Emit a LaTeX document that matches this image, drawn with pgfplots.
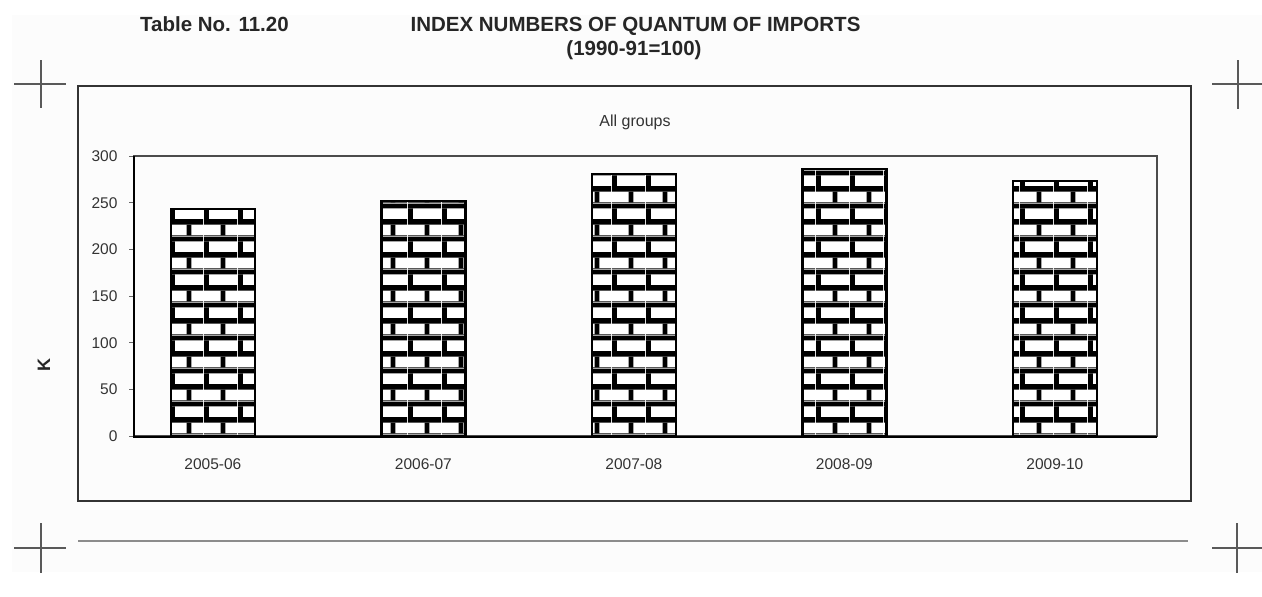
\documentclass[border=0pt]{standalone}
\usepackage{fontspec}
\setmainfont{Liberation Sans}
\usepackage{pgfplots}
\pgfplotsset{compat=1.18}
\usetikzlibrary{patterns.meta}

\tikzdeclarepattern{
  name=bricks,
  type=uncolored,
  bottom left={(0pt,0pt)},
  top right={(34pt,32.6pt)},
  tile size={(34pt,32.6pt)},
  code={
    \fill (0pt,11.55pt) rectangle (34pt,17.05pt);
    \fill (0pt,27.85pt) rectangle (34pt,32.6pt);
    \fill (0pt,0pt) rectangle (34pt,0.75pt);
    \fill (0pt,17.05pt) rectangle (5pt,27.85pt);
    \fill (17pt,0.75pt) rectangle (22pt,11.55pt);
  }
}

\pgfplotstableread{
x val
0 243.2
1 252.1
2 280.4
3 286.1
4 273.5
}\imports

\begin{document}
\begin{tikzpicture}[x=1pt,y=-1pt]
\path[use as bounding box] (0,0) rectangle (1262,597);
\fill[black!1] (12,15) rectangle (1262,572);

% header
\node[anchor=base west, inner sep=0, font=\bfseries\fontsize{20.5}{20.5}\selectfont, text=black!85] at (140,31) {Table No. 11.20};
\node[anchor=base, inner sep=0, font=\bfseries\fontsize{20.5}{20.5}\selectfont, text=black!85] at (635.5,31) {INDEX NUMBERS OF QUANTUM OF IMPORTS};
\node[anchor=base, inner sep=0, font=\bfseries\fontsize{20.5}{20.5}\selectfont, text=black!85] at (634,55) {(1990-91=100)};

% crop marks
\begin{scope}[black!65, line width=1.5pt]
\draw (14,84)--(66,84); \draw (41,60)--(41,108);
\draw (1212,84)--(1262,84); \draw (1238,60)--(1238,109);
\draw (14,548)--(66,548); \draw (41,523)--(41,573);
\draw (1212,548)--(1262,548); \draw (1237,523)--(1237,573);
\end{scope}
\draw[black!45, line width=1.5pt] (78,541)--(1188,541);

% outer frame
\draw[black!80, line width=2.5pt] (78,86) rectangle (1191,501);
\node[anchor=base, inner sep=0, font=\fontsize{16}{16}\selectfont, text=black!80] at (635,126.5) {All groups};
\node[rotate=90, inner sep=0, font=\bfseries\fontsize{18}{18}\selectfont, text=black!85] at (44,365) {K};

\begin{axis}[
  at={(134pt,-436pt)}, anchor=south west,
  scale only axis, width=1023pt, height=280pt,
  xmin=-0.375, xmax=4.485, ymin=0, ymax=300,
  ytick={0,50,...,300},
  xtick={0,1,2,3,4},
  xticklabels={2005-06,2006-07,2007-08,2008-09,2009-10},
  major x tick style={draw=none},
  ytick pos=left,
  ytick style={black!60, line width=1pt},
  tick align=outside, major tick length=5pt,
  axis line style={black!70, line width=1.6pt},
  ticklabel style={font=\fontsize{15.5}{15.5}\selectfont, text=black!80},
  xticklabel style={yshift=-14pt},
  yticklabel style={xshift=-8pt},
  /pgf/number format/assume math mode=true,
  ybar, bar width=84pt,
  clip=false,
]
\addplot[draw=black, line width=2.4pt, fill=white, postaction={pattern={bricks}, pattern color=black}] table[x=x, y=val] {\imports};
\end{axis}
\draw[black, line width=2pt] (134,156)--(134,437)--(1157,437);
\end{tikzpicture}
\end{document}
